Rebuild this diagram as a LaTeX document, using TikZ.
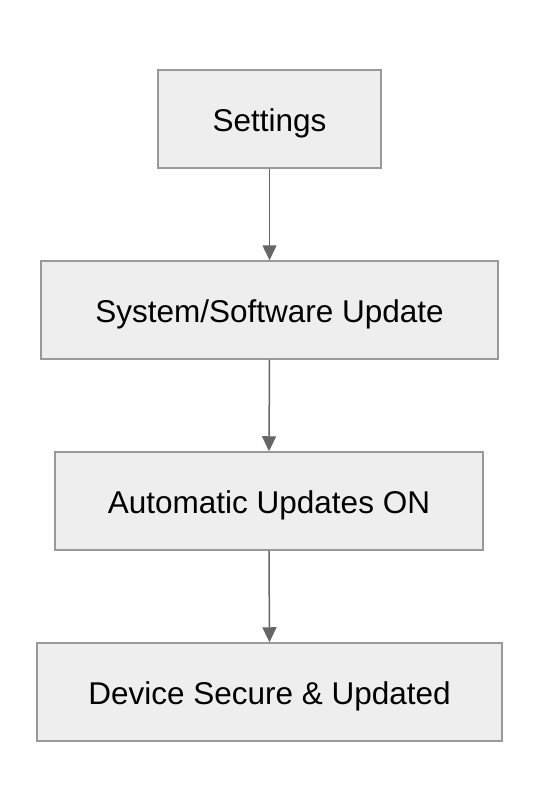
\documentclass[tikz,border=0pt]{standalone}
\usepackage{fontspec}
\setmainfont{Liberation Sans}
\usetikzlibrary{arrows.meta}
\definecolor{boxfill}{HTML}{EEEEEE}
\definecolor{boxline}{HTML}{999999}
\definecolor{arrowc}{HTML}{666666}
\begin{document}
\begin{tikzpicture}[x=1pt,y=-1pt,
  stepbox/.style={draw=boxline,fill=boxfill,line width=1.5pt,inner sep=0pt,
    font=\fontsize{31.5}{36}\selectfont,text=black,text height=30pt,text depth=6pt},
  flow/.style={draw=arrowc,line width=1.5pt,-{Triangle[length=15pt,width=14pt]}}]
\useasboundingbox (0,0) rectangle (540,812);
\fill[white] (0,0) rectangle (540,812);
\node[stepbox,minimum width=223pt,minimum height=98pt] (s) at (269.5,119) {Settings};
\node[stepbox,minimum width=457pt,minimum height=98pt] (u) at (269.5,310) {System/Software Update};
\node[stepbox,minimum width=428pt,minimum height=98pt] (a) at (269,501) {Automatic Updates ON};
\node[stepbox,minimum width=465pt,minimum height=98pt] (d) at (269.5,692) {Device Secure \& Updated};
\draw[flow] (s.south) -- (u.north);
\draw[flow] (u.south) -- (a.north);
\draw[flow] (a.south) -- (d.north);
\end{tikzpicture}
\end{document}
